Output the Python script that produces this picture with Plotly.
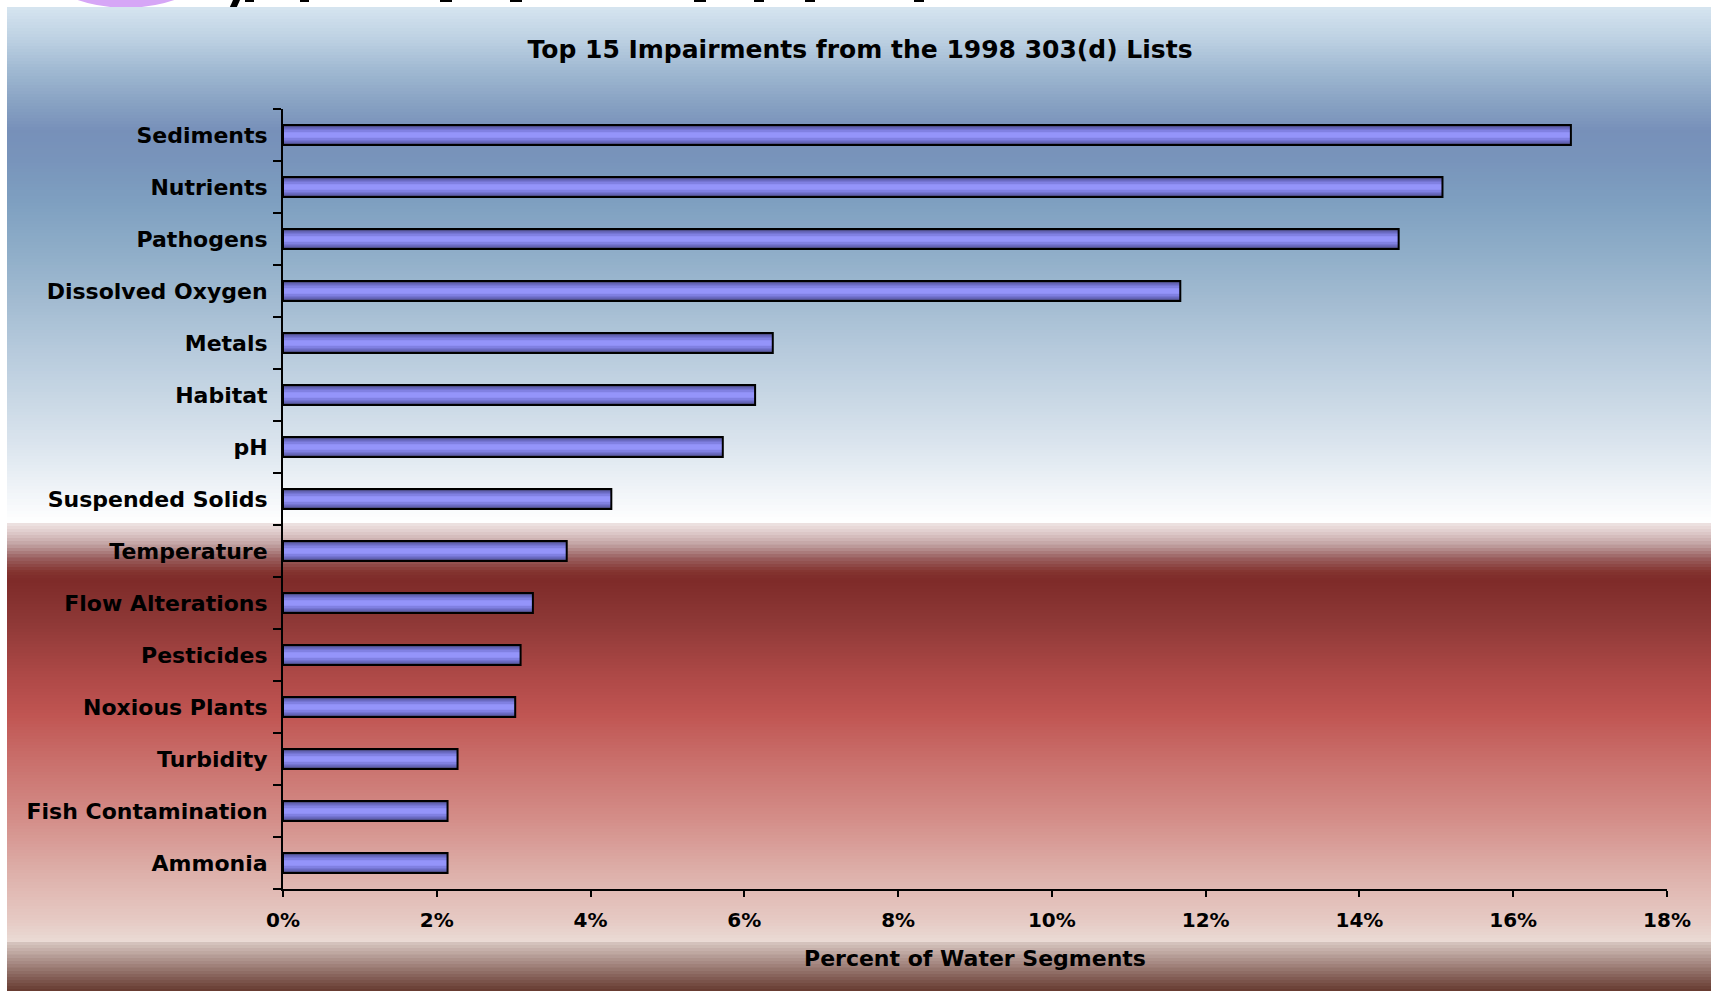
import plotly.graph_objects as go

# ---------------- data ----------------
categories = ["Sediments", "Nutrients", "Pathogens", "Dissolved Oxygen", "Metals",
              "Habitat", "pH", "Suspended Solids", "Temperature", "Flow Alterations",
              "Pesticides", "Noxious Plants", "Turbidity", "Fish Contamination", "Ammonia"]
percent = [16.75, 15.08, 14.51, 11.67, 6.37, 6.14, 5.72, 4.27, 3.69, 3.25,
           3.09, 3.02, 2.27, 2.14, 2.14]
x_tick_vals = [0, 2, 4, 6, 8, 10, 12, 14, 16, 18]
x_tick_text = ["0%", "2%", "4%", "6%", "8%", "10%", "12%", "14%", "16%", "18%"]

title_text = "Top 15 Impairments from the 1998 303(d) Lists"
x_title = "Percent of Water Segments"

# ---------------- layout geometry ----------------
W, H = 1711, 991
ML, MR, MT, MB = 283, 44, 109, 102
PW = W - ML - MR
PH = H - MT - MB


def px_x(px):
    return (px - ML) / PW


def px_y(py):
    return (H - MB - py) / PH


def hex2rgb(h):
    h = h.lstrip("#")
    return tuple(int(h[i:i + 2], 16) for i in (0, 2, 4))


def lerp(c1, c2, t):
    a, b = hex2rgb(c1), hex2rgb(c2)
    return "rgb(%d,%d,%d)" % tuple(round(a[i] + (b[i] - a[i]) * t) for i in range(3))


# background gradient segments: list of (y_px, colour) runs
bg_runs = [
    [(7, "#d6e5f0"), (40, "#bcd0e2"), (70, "#a0b9d2"), (100, "#8aa4c4"), (130, "#7790b9"),
     (160, "#7894bb"), (200, "#7e9fc0"), (250, "#8eadc8"), (300, "#a2bbd1"), (350, "#b6cadc"),
     (400, "#c9d8e5"), (450, "#dde6ef"), (490, "#f0f4f8"), (523, "#ffffff")],
    [(523, "#efe4e4"), (532, "#e0cccc"), (545, "#c0a0a0"), (558, "#9a6060"), (572, "#83332f"),
     (580, "#7e2b29"), (620, "#8d3836"), (680, "#b04a48"), (715, "#c05552"), (760, "#c96f6b"),
     (820, "#d48e89"), (870, "#ddaea8"), (920, "#e6cac4"), (942, "#eadbd5")],
    [(942, "#d8c7c0"), (955, "#b9a09a"), (968, "#9a7a73"), (980, "#7d574e"), (991, "#66392f")],
]

shapes = []
# purple fragment at the top of the slide
shapes.append(dict(type="circle", xref="paper", yref="paper", layer="below",
                   x0=px_x(126 - 150), x1=px_x(126 + 150), y0=px_y(8), y1=px_y(8 - 300),
                   fillcolor="#d6a6f6", line=dict(width=0)))
# black fragments of a cut-off heading
for (a, b) in [(245, 254), (300, 309), (440, 452), (510, 522), (694, 706), (754, 764),
               (805, 815), (914, 924)]:
    shapes.append(dict(type="rect", xref="paper", yref="paper", layer="below",
                       x0=px_x(a), x1=px_x(b), y0=px_y(2), y1=px_y(0),
                       fillcolor="black", line=dict(width=0)))
shapes.append(dict(type="path", xref="paper", yref="paper", layer="below",
                   path="M %f,%f L %f,%f L %f,%f L %f,%f Z" % (
                       px_x(233), px_y(0), px_x(240), px_y(0), px_x(236), px_y(9), px_x(229), px_y(9)),
                   fillcolor="black", line=dict(width=0)))

step = 3
for run in bg_runs:
    for (y0, c0), (y1, c1) in zip(run[:-1], run[1:]):
        y = y0
        while y < y1:
            ye = min(y + step, y1)
            t = ((y + ye) / 2 - y0) / (y1 - y0)
            col = lerp(c0, c1, t)
            shapes.append(dict(type="rect", xref="paper", yref="paper", layer="below",
                               x0=px_x(7), x1=px_x(W), y0=px_y(ye + 0.5), y1=px_y(y),
                               fillcolor=col, line=dict(width=0)))
            y = ye

# ---------------- bars (layered for the tubular shading) ----------------
fig = go.Figure()
layers = [(0.385, "#50508c"), (0.30, "#6a6ac2"), (0.21, "#8080e2"), (0.11, "#9494fa")]
for wdt, col in layers:
    fig.add_trace(go.Bar(x=percent, y=categories, orientation="h", width=wdt,
                         marker=dict(color=col, line=dict(width=0)),
                         hoverinfo="skip", showlegend=False))
fig.add_trace(go.Bar(x=percent, y=categories, orientation="h", width=0.385,
                     marker=dict(color="rgba(0,0,0,0)", line=dict(color="black", width=2)),
                     showlegend=False, hovertemplate="%{y}: %{x:.1f}%<extra></extra>"))

FONT = "DejaVu Sans"
fig.update_layout(
    width=W, height=H,
    margin=dict(l=ML, r=MR, t=MT, b=MB, pad=0),
    paper_bgcolor="white", plot_bgcolor="rgba(0,0,0,0)",
    barmode="overlay",
    shapes=shapes,
    title=dict(text=title_text, x=860 / W, xref="container",
               y=1 - 49 / H, yref="container", yanchor="middle", xanchor="center",
               font=dict(family=FONT, size=25, color="black", weight="bold")),
    xaxis=dict(range=[0, 18], tickvals=x_tick_vals, ticktext=x_tick_text,
               showgrid=False, zeroline=False, showline=True, linecolor="black", linewidth=2,
               ticks="outside", ticklen=6, tickwidth=2, tickcolor="black",
               ticklabelstandoff=6,
               tickfont=dict(family=FONT, size=20, color="black", weight="bold"),
               title=dict(text=x_title, standoff=20,
                          font=dict(family=FONT, size=22, color="black", weight="bold"))),
    yaxis=dict(categoryorder="array", categoryarray=categories[::-1],
               showgrid=False, zeroline=False, showline=True, linecolor="black", linewidth=2,
               ticks="outside", ticklen=8, tickwidth=2, tickcolor="black",
               tickson="boundaries", ticklabelstandoff=9,
               tickfont=dict(family=FONT, size=22, color="black", weight="bold")),
)

fig.write_html("out.html")
